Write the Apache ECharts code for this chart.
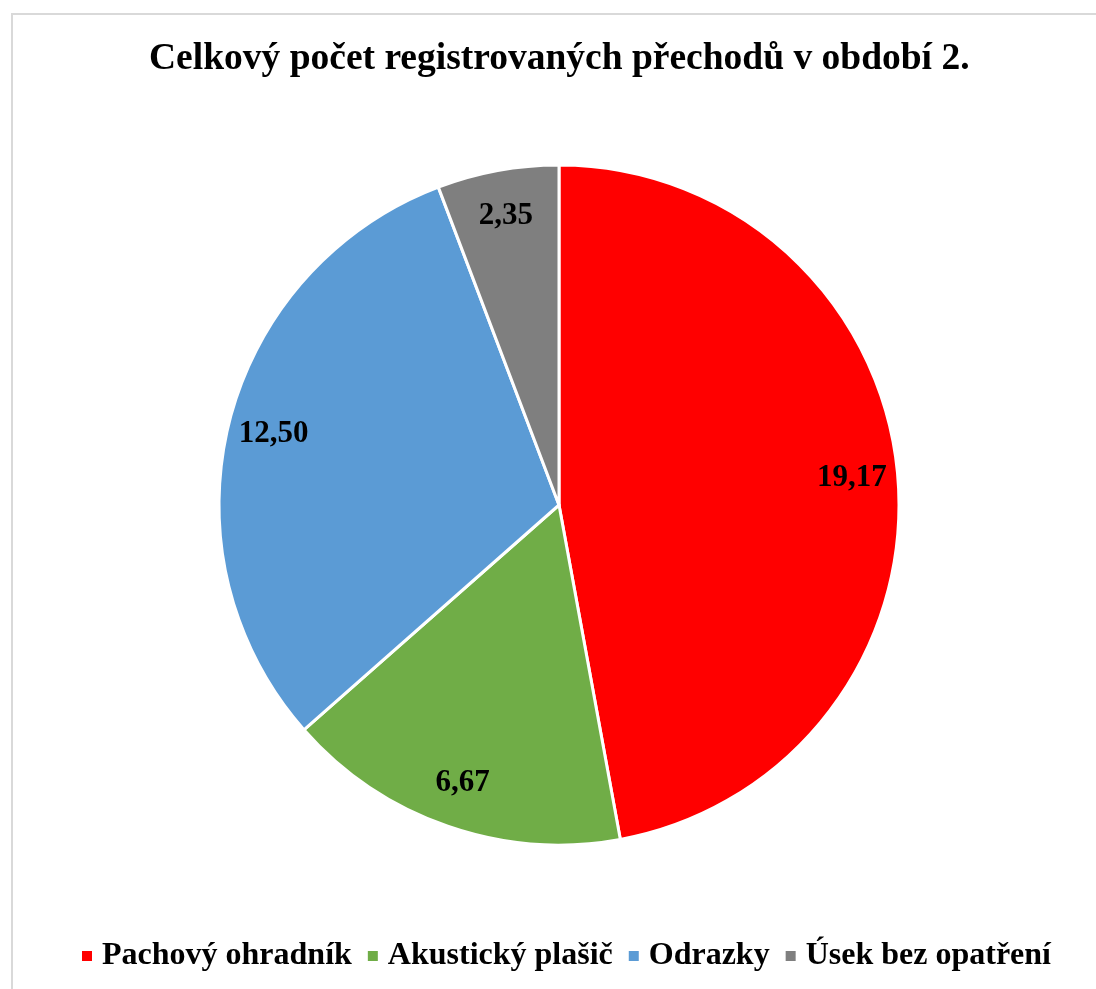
<!DOCTYPE html>
<html>
<head>
<meta charset="utf-8">
<script src="https://cdn.jsdelivr.net/npm/echarts@6/dist/echarts.min.js"></script>
<style>
	html, body { margin: 0; padding: 0; background: #fff; overflow: hidden; }
	#chart { width: 1096px; height: 989px; }
</style>
</head>
<body>
<div id="chart"></div>
<script>
	var titleText = 'Celkový počet registrovaných přechodů v období 2.';
	var categories = [ 'Pachový ohradník', 'Akustický plašič', 'Odrazky', 'Úsek bez opatření' ];
	var values = [ 19.17, 6.67, 12.50, 2.35 ];
	var colors = [ '#FF0000', '#70AD47', '#5B9BD5', '#7F7F7F' ];

	var font = '"Liberation Serif", "Times New Roman", serif';
	var center = [ 559, 505 ];
	var radius = 340;

	var chart = echarts.init(document.getElementById('chart'));

	var total = values.reduce(function(a, b) {
		return a + b;
	}, 0);

	// label sits near the rim, on the middle angle of its slice
	function labelPoint(index) {
		var before = 0;
		for (var i = 0; i < index; i++) {
			before += values[i];
		}
		var mid = (before + values[index] / 2) / total * Math.PI * 2;
		var r = radius * 0.865;
		return {
			x : center[0] + Math.sin(mid) * r,
			y : center[1] - Math.cos(mid) * r
		};
	}

	var data = categories.map(function(name, i) {
		return {
			name : name,
			value : values[i],
			itemStyle : {
				color : colors[i]
			}
		};
	});

	var option = {
		animation : false,
		title : {
			text : titleText,
			left : 144,
			top : 35,
			textStyle : {
				fontFamily : font,
				fontWeight : 'bold',
				fontSize : 37.5,
				color : '#000'
			}
		},
		graphic : [ {
			type : 'rect',
			shape : {
				x : 12,
				y : 14,
				width : 1100,
				height : 1000
			},
			style : {
				fill : 'none',
				stroke : '#d9d9d9',
				lineWidth : 2
			},
			silent : true
		} ],
		legend : {
			bottom : 12,
			left : 75,
			icon : 'rect',
			itemWidth : 12,
			itemHeight : 12,
			itemGap : 14,
			textStyle : {
				fontFamily : font,
				fontWeight : 'bold',
				fontSize : 32,
				color : '#000',
				padding : [ 0, 0, 0, 4 ]
			},
			data : categories
		},
		series : [ {
			type : 'pie',
			center : center,
			radius : radius,
			startAngle : 90,
			clockwise : true,
			itemStyle : {
				borderColor : '#fff',
				borderWidth : 3
			},
			label : {
				show : true,
				position : 'inside',
				fontFamily : font,
				fontWeight : 'bold',
				fontSize : 31,
				color : '#000',
				formatter : function(p) {
					return p.value.toFixed(2).replace('.', ',');
				}
			},
			labelLayout : function(params) {
				var pt = labelPoint(params.dataIndex);
				return {
					x : pt.x,
					y : pt.y,
					align : 'center',
					verticalAlign : 'middle'
				};
			},
			emphasis : {
				disabled : true
			},
			data : data
		} ]
	};

	chart.setOption(option);
</script>
</body>
</html>
